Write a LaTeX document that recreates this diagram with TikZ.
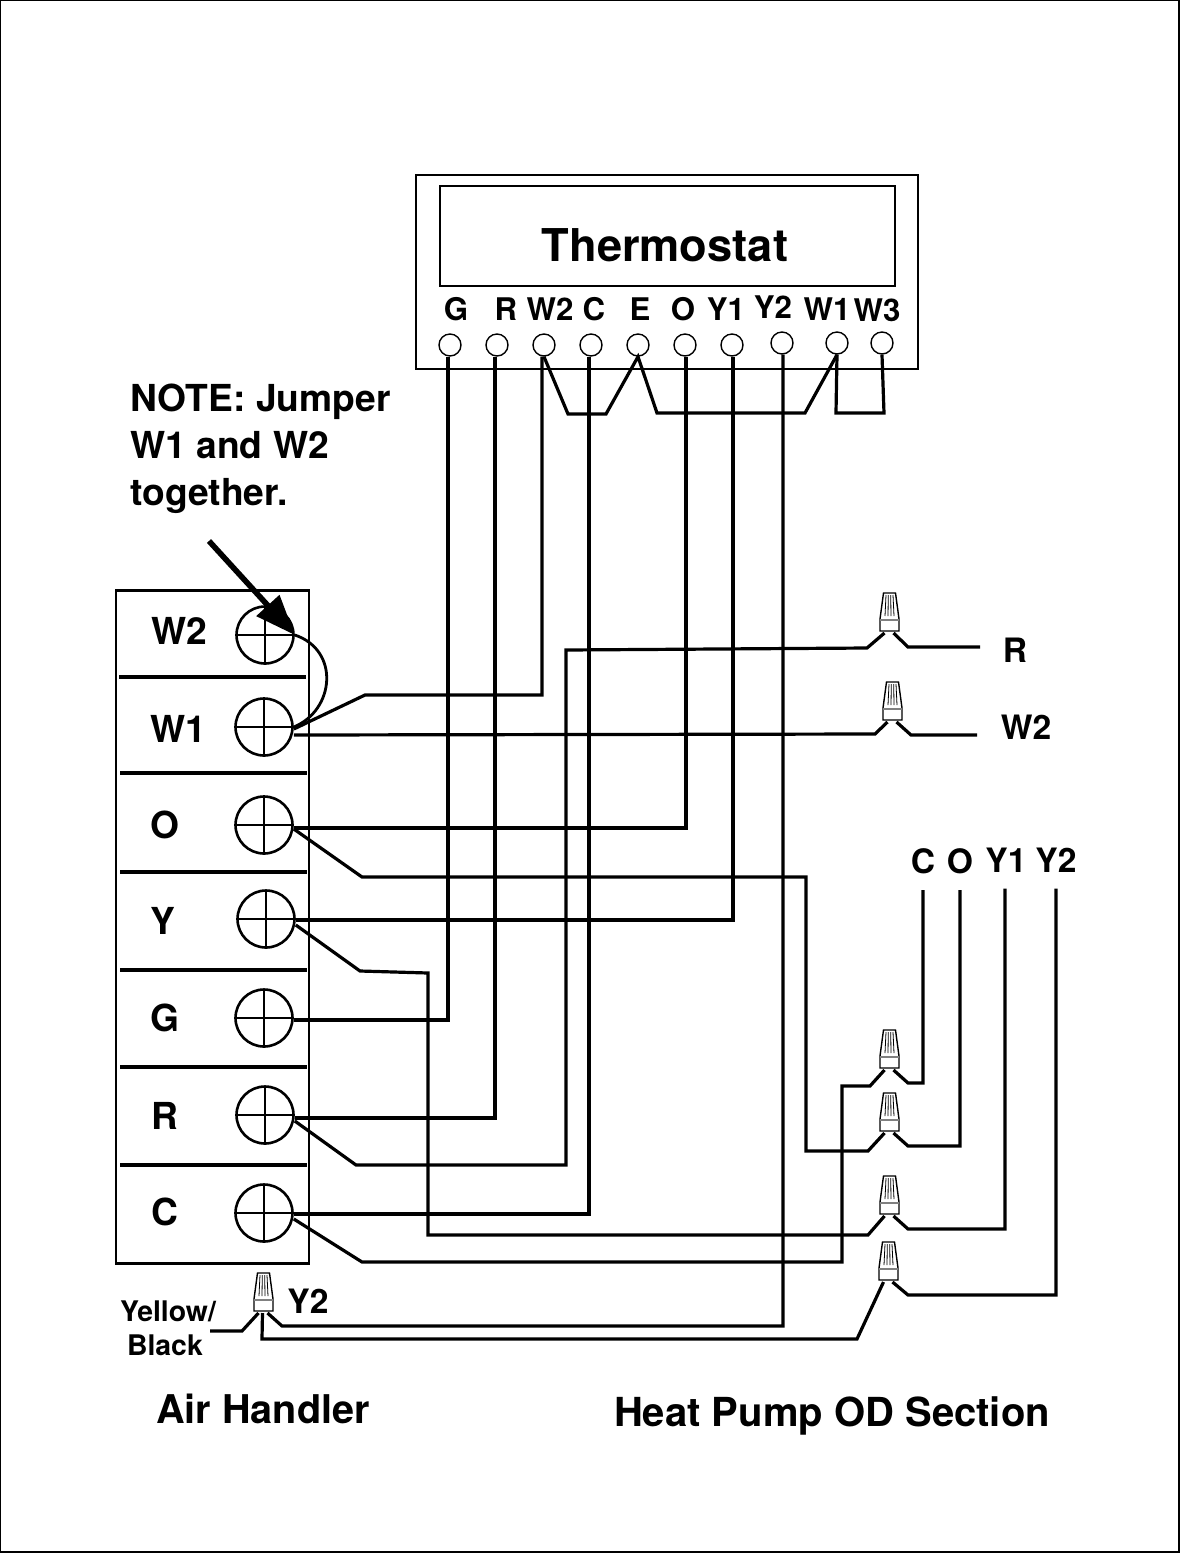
\documentclass[tikz,border=0pt]{standalone}
\usepackage{fontspec}
\setmainfont{TeX Gyre Heros}
\usetikzlibrary{arrows.meta}
\tikzset{
  wire/.style={line width=1.6pt,line join=miter},
  jumper/.style={line width=1.4pt},
  lbl/.style={font=\bfseries\fontsize{16.8}{20}\selectfont,inner sep=0},
  toplbl/.style={font=\bfseries\fontsize{15.6}{18}\selectfont,inner sep=0},
  blocklbl/.style={font=\bfseries\fontsize{18.6}{22}\selectfont,inner sep=0},
  smalllbl/.style={font=\bfseries\fontsize{14.2}{17}\selectfont,inner sep=0},
  tstat/.style={circle,draw,line width=.7pt,inner sep=0,minimum size=11pt},
  screw/.style={circle,draw,line width=1.3pt,inner sep=0,minimum size=28.5pt,
    path picture={\draw[line width=1.2pt] (path picture bounding box.north) -- (path picture bounding box.south)
      (path picture bounding box.west) -- (path picture bounding box.east);}},
  wirenut/.pic={
    \draw[line width=.7pt,fill=white] (-6,0) -- (6,0) -- (9.5,26) -- (9.5,38) -- (-9.5,38) -- (-9.5,26) -- cycle;
    \draw[line width=.6pt,gray] (-9.5,27) -- (9.5,27);
    \draw[line width=.4pt] (-3.5,2) -- (-4.5,23) (-1.2,2) -- (-1.5,23) (1.2,2) -- (1.5,23) (3.5,2) -- (4.5,23);
    \coordinate (-left) at (-5,40);
    \coordinate (-mid) at (-1,40);
    \coordinate (-right) at (4,40);
  }
}
\begin{document}
\begin{tikzpicture}[x=.5pt,y=-.5pt,node distance=23.5pt]
  \useasboundingbox (0,0) rectangle (1180,1554);
  \draw[line width=.7pt] (.5,.5) rectangle (1179,1552);
  % thermostat
  \node[draw,line width=.9pt,minimum width=251pt,minimum height=97pt] (stat) at (667,272) {};
  \node[draw,line width=.7pt,minimum width=227.5pt,minimum height=50pt] (display) at (667.5,236) {};
  \node[font=\bfseries\fontsize{22.6}{26}\selectfont,inner sep=0] (title) at (665,245) {Thermostat};
  \node[tstat] (tG) at (450,345) {};
  \node[tstat] (tR) [right of=tG] {};
  \node[tstat] (tW2) [right of=tR] {};
  \node[tstat] (tC) [right of=tW2] {};
  \node[tstat] (tE) [right of=tC] {};
  \node[tstat] (tO) [right of=tE] {};
  \node[tstat] (tY1) [right of=tO] {};
  \node[tstat] (tY2) at (782,343) {};
  \node[tstat] (tW1) at (837,343) {};
  \node[tstat] (tW3) at (882,343) {};
  \node[toplbl] (lG) at (456,309) {G};
  \node[toplbl] (lR) at (506,309) {R};
  \node[toplbl] (lW2) at (550,309) {W2};
  \node[toplbl] (lC) at (594,309) {C};
  \node[toplbl] (lE) at (640,309) {E};
  \node[toplbl] (lO) at (683,309) {O};
  \node[toplbl] (lY1) at (726,309) {Y1};
  \node[toplbl] (lY2) at (773,307) {Y2};
  \node[toplbl] (lW1) at (827,309) {W1};
  \node[toplbl] (lW3) at (877,310) {W3};
  % air handler
  \node[draw,line width=1.4pt,minimum width=96.5pt,minimum height=336.5pt] (block) at (212.5,927) {};
  \draw[wire] (119,677) -- (306,677);
  \draw[wire] (120,773) -- (307,773);
  \draw[wire] (120,872) -- (307,872);
  \draw[wire] (120,970) -- (307,970);
  \draw[wire] (120,1067) -- (307,1067);
  \draw[wire] (120,1165) -- (307,1165);
  \node[screw] (sW2) at (265,635) {};
  \node[screw] (sW1) at (264,727) {};
  \node[screw] (sO) at (264,825) {};
  \node[screw] (sY) at (266,919) {};
  \node[screw] (sG) at (264,1018) {};
  \node[screw] (sR) at (265,1115) {};
  \node[screw] (sC) at (264,1213) {};
  \node[blocklbl] (bW2) at (179,631) {W2};
  \node[blocklbl] (bW1) at (178,729) {W1};
  \node[blocklbl] (bO) at (165,825) {O};
  \node[blocklbl] (bY) at (163,921) {Y};
  \node[blocklbl] (bG) at (165,1018) {G};
  \node[blocklbl] (bR) at (165,1116) {R};
  \node[blocklbl] (bC) at (165,1212) {C};
  % wire nuts
  \pic (nutR) at (889.5,593) {wirenut};
  \pic (nutW) at (892.5,682) {wirenut};
  \pic (nutC) at (889.5,1030) {wirenut};
  \pic (nutO) at (889.5,1093) {wirenut};
  \pic (nutA) at (889.5,1176) {wirenut};
  \pic (nutB) at (888.5,1242) {wirenut};
  \pic (nutH) at (263.5,1273) {wirenut};
  % outdoor side leads
  \node[lbl] (oR) at (1015,650) {R};
  \node[lbl] (oW2) at (1026,727) {W2};
  \node[lbl] (oC) at (923,861) {C};
  \node[lbl] (oO) at (960,861) {O};
  \node[lbl] (oY1) at (1006,860) {Y1};
  \node[lbl] (oY2) at (1056,860) {Y2};
  \coordinate (endR) at (980,647);
  \coordinate (endW) at (977,735);
  % jumpers
  \draw[wire] (tW2.south) -- (568,414) -- (606,414) -- (tE.south) -- (657,413) -- (805,413) -- (tW1.south);
  \draw[wire] (tW1.south) -- (836,413) -- (884,413) -- (tW3.south);
  \draw[jumper] (sW2.east) .. controls (340,650) and (335,710) .. (sW1.east);
  % thermostat to air handler
  \draw[wire] ([xshift=-1pt]tG.south) |- ([yshift=-1pt]sG.east);
  \draw[wire] ([xshift=-1pt]tR.south) |- ([yshift=-1.5pt]sR.east);
  \draw[wire] ([xshift=-1pt]tW2.south) -- (542,695) -- (365,695) -- ([yshift=-1pt]sW1.east);
  \draw[wire] ([xshift=-1pt]tC.south) |- ([yshift=-.5pt]sC.east);
  \draw[wire] ([xshift=.5pt]tO.south) |- ([yshift=-1.5pt]sO.east);
  \draw[wire] ([xshift=.5pt]tY1.south) |- ([yshift=-.5pt]sY.east);
  \draw[wire] ([xshift=.5pt]tY2.south) |- (282,1326) -- (nutH-right);
  % air handler to nuts
  \draw[wire] ([yshift=-4pt]sW1.east) -- (875,734) -- (nutW-left);
  \draw[wire] ([yshift=-3pt]sR.east) -- (356,1165) -- (566,1165) -- (566,650) -- (867,648) -- (nutR-left);
  \draw[wire] ([yshift=-2pt]sO.east) -- (362,877) -- (806,877) -- (806,1151) -- (868,1151) -- (nutO-left);
  \draw[wire] ([yshift=-3pt]sY.east) -- (360,971) -- (428,973) -- (428,1235) -- (868,1235) -- (nutA-left);
  \draw[wire] ([yshift=-3pt]sC.east) -- (362,1262) -- (842,1262) -- (842,1086) -- (870,1086) -- (nutC-left);
  \draw[wire] (nutH-mid) -- (262,1339) -- (857,1339) -- (nutB-left);
  % nuts to outdoor side
  \draw[wire] (nutR-right) -- (908,647) -- (endR);
  \draw[wire] (nutW-right) -- (911,735) -- (endW);
  \draw[wire] (nutC-right) -- (908,1083) -- (923,1083) -- ([yshift=-8pt]oC.south);
  \draw[wire] (nutO-right) -- (908,1146) -- (960,1146) -- ([yshift=-8pt]oO.south);
  \draw[wire] (nutA-right) -- (908,1229) -- (1005,1229) -- ([yshift=-8pt,xshift=-.5pt]oY1.south);
  \draw[wire] (nutB-right) -- (908,1295) -- (1056,1295) -- ([yshift=-8pt]oY2.south);
  \coordinate (tailH) at (210,1331);
  \draw[wire] (nutH-left) -- (242,1331) -- (tailH);
  % note
  \node[font=\bfseries\fontsize{18.6}{23.5}\selectfont,inner sep=0,align=left,anchor=west] (note) at (130,449) {NOTE: Jumper\\W1 and W2\\together.};
  \coordinate (noteStart) at (209,541);
  \draw[line width=2.8pt,-{Triangle[length=20pt,width=15pt]}] (noteStart) -- (sW2.east);
  % captions
  \node[lbl] (tagY2) at (308,1301) {Y2};
  \node[smalllbl] (yel) at (168,1311) {Yellow/};
  \node[smalllbl] (blk) at (165,1345) {Black};
  \node[font=\bfseries\fontsize{19.8}{24}\selectfont,inner sep=0] (capA) at (263,1409) {Air Handler};
  \node[font=\bfseries\fontsize{20}{24}\selectfont,inner sep=0] (capH) at (832,1416) {Heat Pump OD Section};
\end{tikzpicture}
\end{document}
